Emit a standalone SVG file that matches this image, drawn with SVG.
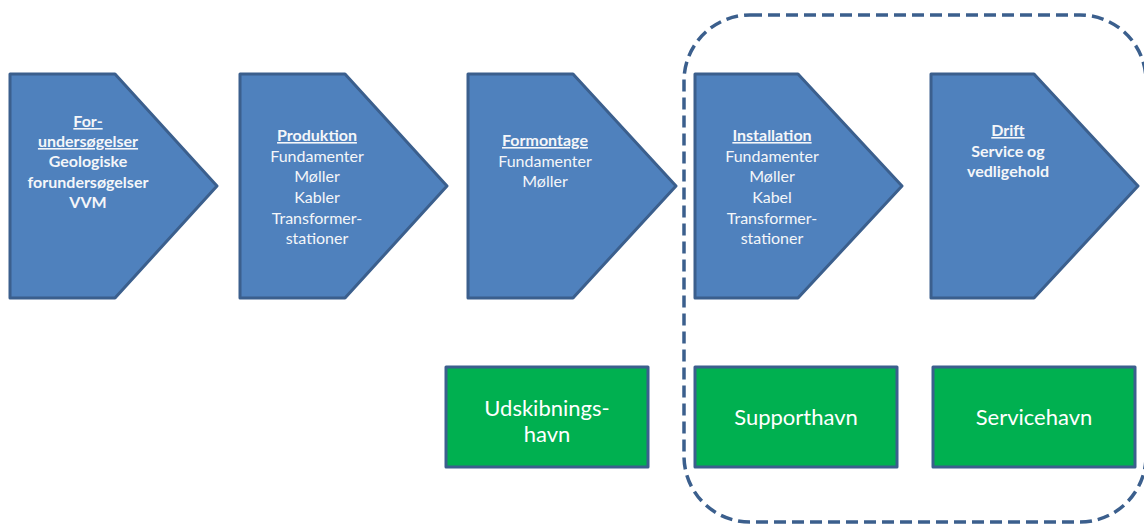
<svg xmlns="http://www.w3.org/2000/svg" width="1144" height="524" viewBox="0 0 1144 524">
<style>
.step{fill:#4f81bd;stroke:#3b5f8d;stroke-width:3;stroke-linejoin:round}
.port{fill:#00b050;stroke:#3b5f8d;stroke-width:3;stroke-linejoin:round}
.t{font-family:Lato,"Open Sans","Liberation Sans",sans-serif;font-size:16px;fill:#f4f6f9;text-anchor:middle}
.b{font-weight:bold}
.u{font-weight:bold;text-decoration:underline}
.pt{font-family:Lato,"Open Sans","Liberation Sans",sans-serif;font-size:22px;fill:#ffffff;text-anchor:middle}
.bound{fill:none;stroke:#3b5f8d;stroke-width:3.5;stroke-dasharray:12 6}
</style>
<rect width="1144" height="524" fill="#ffffff"/>
<g id="connectors">
<rect class="bound" x="684" y="15" width="462" height="507" rx="66" ry="66"/>
</g>
<g id="forundersogelser">
<polygon class="step" points="10,74 115,74 217,186 115,298 10,298"/>
<text class="t u" x="88" y="127">For-</text>
<text class="t u" x="88" y="147">undersøgelser</text>
<text class="t b" x="88" y="167">Geologiske</text>
<text class="t b" x="88" y="188">forundersøgelser</text>
<text class="t b" x="88" y="208">VVM</text>
</g>
<g id="produktion">
<polygon class="step" points="240,74 345,74 447,186 345,298 240,298"/>
<text class="t u" x="317" y="141">Produktion</text>
<text class="t" x="317" y="162">Fundamenter</text>
<text class="t" x="317" y="182">Møller</text>
<text class="t" x="317" y="203">Kabler</text>
<text class="t" x="317" y="224">Transformer-</text>
<text class="t" x="317" y="244">stationer</text>
</g>
<g id="formontage">
<polygon class="step" points="468,74 573,74 676,186 573,298 468,298"/>
<text class="t u" x="545" y="146">Formontage</text>
<text class="t" x="545" y="167">Fundamenter</text>
<text class="t" x="545" y="187">Møller</text>
</g>
<g id="installation">
<polygon class="step" points="695,74 798,74 902,186 798,298 695,298"/>
<text class="t u" x="772" y="141">Installation</text>
<text class="t" x="772" y="162">Fundamenter</text>
<text class="t" x="772" y="182">Møller</text>
<text class="t" x="772" y="203">Kabel</text>
<text class="t" x="772" y="224">Transformer-</text>
<text class="t" x="772" y="244">stationer</text>
</g>
<g id="drift">
<polygon class="step" points="931,74 1034,74 1138,186 1034,298 931,298"/>
<text class="t u" x="1008" y="136">Drift</text>
<text class="t b" x="1008" y="157">Service og</text>
<text class="t b" x="1008" y="177">vedligehold</text>
</g>
<g id="udskibningshavn">
<rect class="port" x="446" y="367" width="202" height="100"/>
<text class="pt" x="547" y="416">Udskibnings-</text>
<text class="pt" x="547" y="442">havn</text>
</g>
<g id="supporthavn">
<rect class="port" x="695" y="367" width="202" height="100"/>
<text class="pt" x="796" y="425">Supporthavn</text>
</g>
<g id="servicehavn">
<rect class="port" x="933" y="367" width="202" height="100"/>
<text class="pt" x="1034" y="425">Servicehavn</text>
</g>
</svg>
